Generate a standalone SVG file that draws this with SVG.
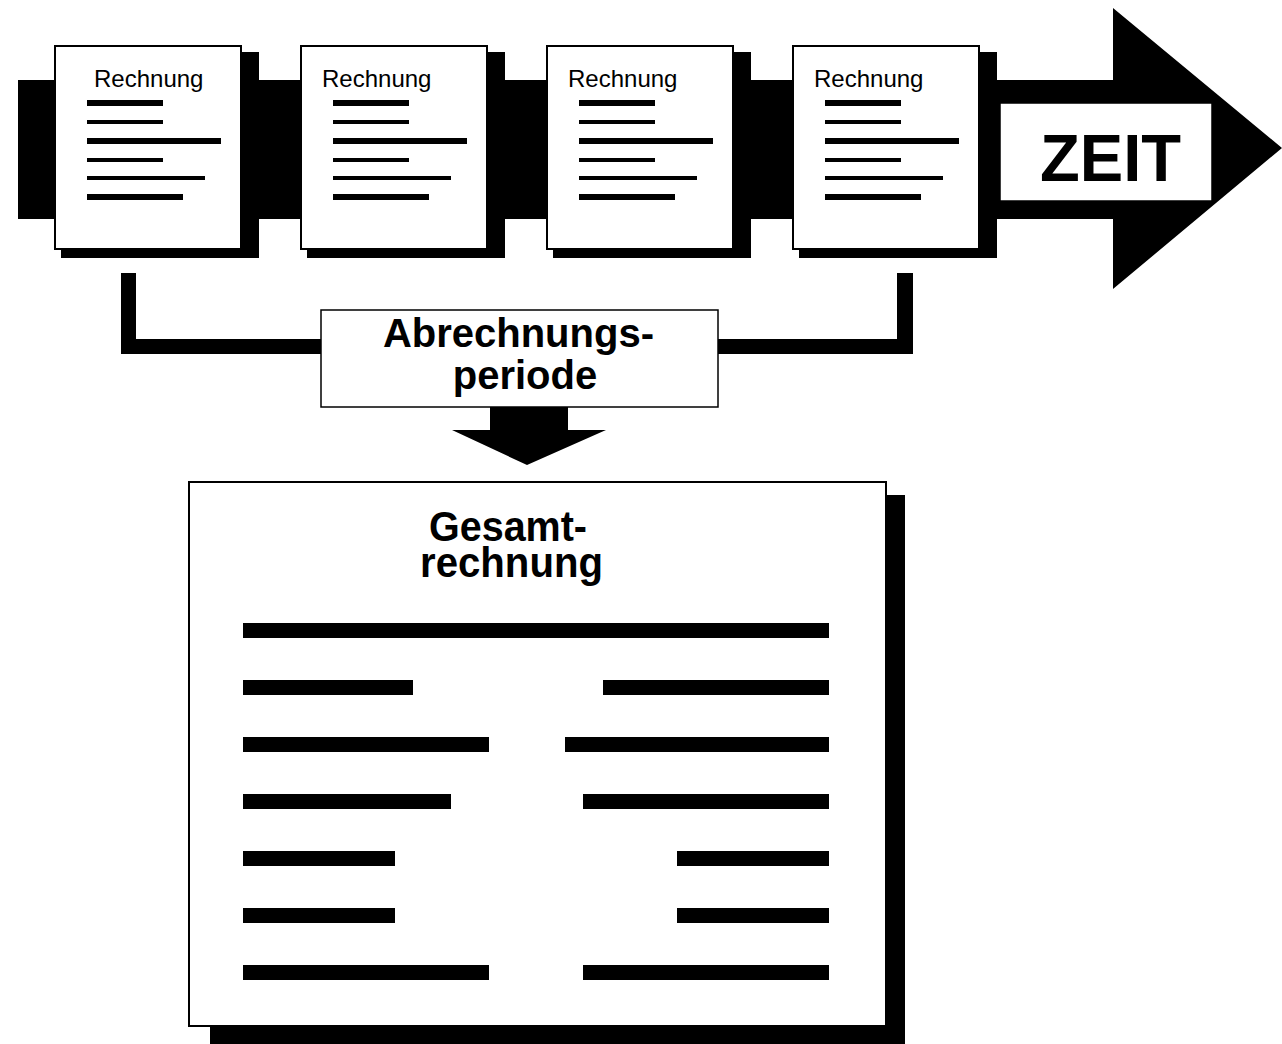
<svg xmlns="http://www.w3.org/2000/svg" xmlns:xlink="http://www.w3.org/1999/xlink" width="1282" height="1044" viewBox="0 0 1282 1044">
  <style>
    .ink { fill: #000; }
    .sheet { fill: #fff; stroke: #000; stroke-width: 2; }
    .label { fill: #fff; stroke: #000; stroke-width: 1.5; }
    .small { font-family: "Liberation Sans", Arial, sans-serif; font-size: 24px; fill: #000; }
    .bold { font-family: "Liberation Sans", Arial, sans-serif; font-weight: bold; fill: #000; }
  </style>
  <defs>
    <!-- text lines of a single invoice sheet, relative to the sheet's top-left corner -->
    <g id="invoice-lines" class="ink">
      <rect x="32" y="54" width="76" height="6"/>
      <rect x="32" y="74" width="76" height="4"/>
      <rect x="32" y="92" width="134" height="6"/>
      <rect x="32" y="112" width="76" height="4"/>
      <rect x="32" y="130" width="118" height="4"/>
      <rect x="32" y="148" width="96" height="6"/>
    </g>
  </defs>

  <!-- time arrow running behind the invoices -->
  <g id="time-arrow">
    <polygon class="ink" points="18,80 1113,80 1113,8 1282,148 1113,289 1113,219 18,219"/>
  </g>

  <!-- invoices -->
  <g id="invoice-1">
    <rect class="ink" x="61" y="52" width="198" height="206"/>
    <rect class="sheet" x="55" y="46" width="186" height="203"/>
    <use xlink:href="#invoice-lines" x="55" y="46"/>
    <text class="small" x="94" y="87">Rechnung</text>
  </g>
  <g id="invoice-2">
    <rect class="ink" x="307" y="52" width="198" height="206"/>
    <rect class="sheet" x="301" y="46" width="186" height="203"/>
    <use xlink:href="#invoice-lines" x="301" y="46"/>
    <text class="small" x="322" y="87">Rechnung</text>
  </g>
  <g id="invoice-3">
    <rect class="ink" x="553" y="52" width="198" height="206"/>
    <rect class="sheet" x="547" y="46" width="186" height="203"/>
    <use xlink:href="#invoice-lines" x="547" y="46"/>
    <text class="small" x="568" y="87">Rechnung</text>
  </g>
  <g id="invoice-4">
    <rect class="ink" x="799" y="52" width="198" height="206"/>
    <rect class="sheet" x="793" y="46" width="186" height="203"/>
    <use xlink:href="#invoice-lines" x="793" y="46"/>
    <text class="small" x="814" y="87">Rechnung</text>
  </g>

  <!-- label inside the arrow -->
  <g id="zeit">
    <rect class="label" x="1000" y="103" width="212" height="98"/>
    <text class="bold" x="1040" y="181" font-size="67" textLength="141" lengthAdjust="spacingAndGlyphs">ZEIT</text>
  </g>

  <!-- bracket spanning the invoices and arrow into the total -->
  <g id="connectors" class="ink">
    <path d="M121,273 H136 V339 H321 V354 H121 Z"/>
    <path d="M897,273 H913 V354 H718 V339 H897 Z"/>
    <polygon points="490,407 568,407 568,430 606,430 527,465 452,430 490,430"/>
  </g>

  <!-- billing period -->
  <g id="abrechnungsperiode">
    <rect class="label" x="321" y="310" width="397" height="97"/>
    <text class="bold" font-size="40" text-anchor="middle">
      <tspan x="524" y="347">Abrechnungs-</tspan>
      <tspan x="525" y="389">periode</tspan>
    </text>
  </g>

  <!-- total invoice -->
  <g id="gesamtrechnung">
    <rect class="ink" x="210" y="495" width="695" height="549"/>
    <rect class="sheet" x="189" y="482" width="697" height="544"/>
    <text class="bold" font-size="42" x="429" y="541" textLength="158" lengthAdjust="spacingAndGlyphs">Gesamt-</text>
    <text class="bold" font-size="42" x="420" y="577" textLength="183" lengthAdjust="spacingAndGlyphs">rechnung</text>
    <g class="ink">
      <rect x="243" y="623" width="586" height="15"/>
      <rect x="243" y="680" width="170" height="15"/>
      <rect x="603" y="680" width="226" height="15"/>
      <rect x="243" y="737" width="246" height="15"/>
      <rect x="565" y="737" width="264" height="15"/>
      <rect x="243" y="794" width="208" height="15"/>
      <rect x="583" y="794" width="246" height="15"/>
      <rect x="243" y="851" width="152" height="15"/>
      <rect x="677" y="851" width="152" height="15"/>
      <rect x="243" y="908" width="152" height="15"/>
      <rect x="677" y="908" width="152" height="15"/>
      <rect x="243" y="965" width="246" height="15"/>
      <rect x="583" y="965" width="246" height="15"/>
    </g>
  </g>
</svg>
